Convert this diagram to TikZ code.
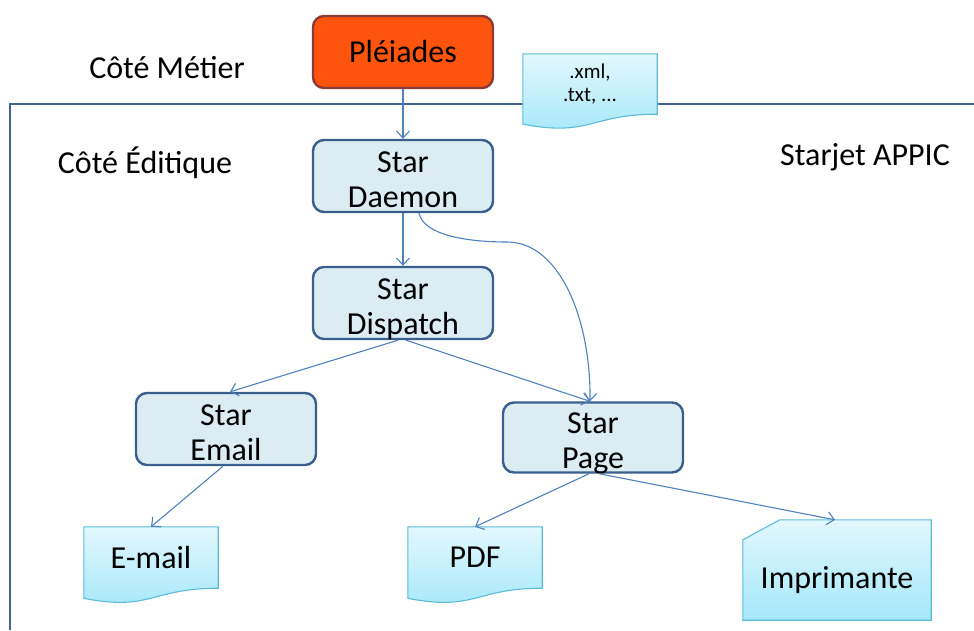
\documentclass[tikz,border=0pt]{standalone}
\usepackage{fontspec}
\setmainfont{Carlito}
\usepackage{tikz}
\usetikzlibrary{arrows.meta,calc,backgrounds}
\usepackage{xcolor}
\definecolor{boxfill}{RGB}{219,237,243}
\definecolor{boxline}{RGB}{58,95,140}
\definecolor{metierfill}{RGB}{255,84,14}
\definecolor{metierline}{RGB}{140,58,52}
\definecolor{arrowcol}{RGB}{79,129,189}
\definecolor{framecol}{RGB}{68,100,144}
\definecolor{doctop}{RGB}{226,248,254}
\definecolor{docbot}{RGB}{164,231,250}
\definecolor{docline}{RGB}{92,188,215}
\newcommand{\sjfont}{\fontsize{32}{35}\selectfont}
\newcommand{\sjsmall}{\fontsize{21}{23}\selectfont}
\tikzset{
  sjbox/.style={draw=boxline, fill=boxfill, line width=2.4pt, rounded corners=11pt,
    minimum width=180pt, minimum height=72pt, align=center, font=\sjfont,
    text height=62pt, text depth=0pt},
  sjmetier/.style={draw=metierline, fill=metierfill, line width=2.4pt, rounded corners=11pt,
    minimum width=180pt, minimum height=72pt, font=\sjfont},
  sjdoc/.style={inner sep=0pt, minimum width=134pt, minimum height=61pt, align=center, font=\sjfont},
  sjshape/.style={draw=docline, line width=1.1pt, top color=doctop, bottom color=docbot},
  sjarrow/.style={-{Straight Barb[length=7pt,width=13pt]}, draw=arrowcol, line width=1.1pt},
  sjframe/.style={draw=framecol, line width=2.4pt},
  sjlabel/.style={font=\sjfont},
}
% document with a wavy foot, the node being its text area
\newcommand{\sjwavedoc}[1]{%
  \path[sjshape] let \p1=(#1.north west), \p2=(#1.south east) in
    (\x1,\y1) -- (\x2,\y1) -- (\x2,\y2)
    .. controls ({(\x1+\x2)/2},\y2) and ({(\x1+\x2)/2},{\y1+1.38*(\y2-\y1)}) ..
    (\x1,{\y1+1.165*(\y2-\y1)}) -- cycle;}
% card with a cut corner, standing 20pt above its node
\newcommand{\sjcard}[1]{%
  \path[sjshape] let \p1=(#1.north west), \p2=(#1.south east) in
    ({\x1+37pt},{\y1+20pt}) -- (\x2,{\y1+20pt}) -- (\x2,\y2) -- (\x1,\y2) -- (\x1,\y1) -- cycle;}

\begin{document}
\begin{tikzpicture}[x=1pt, y=-1pt]
  \useasboundingbox (0,0) rectangle (974,630);

  \node[sjlabel] (metier) at (167,68) {Côté Métier};
  \node[sjlabel] (editique) at (145,163) {Côté Éditique};
  \node[sjlabel] (appic) at (865,157) {Starjet APPIC};

  \node[sjmetier] (pleiades) at (403,52) {Pléiades};
  \node[sjdoc, minimum height=60pt, font=\sjsmall] (formats) at (590,84) {.xml,\\.txt, ...};

  \node[sjbox] (daemon) at (403,176) {Star\\Daemon};
  \node[sjbox] (dispatch) at (403,303) {Star\\Dispatch};
  \node[sjbox] (email) at (226,429) {Star\\Email};
  \node[sjbox, minimum height=70pt] (page) at (593,437.5) {Star\\Page};

  \node[sjdoc] (mail) at (151,557.5) {E-mail};
  \node[sjdoc] (pdf) at (475,557.5) {PDF};
  \node[sjdoc, minimum width=188pt, minimum height=80pt] (printer) at (837,580) {Imprimante};

  \begin{scope}[on background layer]
    \draw[sjframe] (974,104) -- (10,104) -- (10,630);
    \sjwavedoc{formats}
    \sjwavedoc{mail}
    \sjwavedoc{pdf}
    \sjcard{printer}
  \end{scope}

  \coordinate (bend) at (507,242);
  \draw[sjarrow] (pleiades) -- (daemon);
  \draw[sjarrow] (daemon) -- (dispatch);
  \draw[sjarrow] ([xshift=16pt]daemon.south) .. controls (424,236) and (470,242) .. (bend)
    .. controls (560,242) and (591,320) .. ([xshift=-3pt]page.north);
  \draw[sjarrow] ([xshift=-5pt]dispatch.south) -- ([xshift=4pt]email.north);
  \draw[sjarrow] ([xshift=3pt]dispatch.south) -- ([xshift=-3pt]page.north);
  \draw[sjarrow] ([xshift=-3pt]email.south) -- (mail.north);
  \draw[sjarrow] ([xshift=-4pt]page.south) -- (pdf.north);
  \draw[sjarrow] ([xshift=6pt]page.south) -- ([xshift=-2pt, yshift=20pt]printer.north);
\end{tikzpicture}
\end{document}
